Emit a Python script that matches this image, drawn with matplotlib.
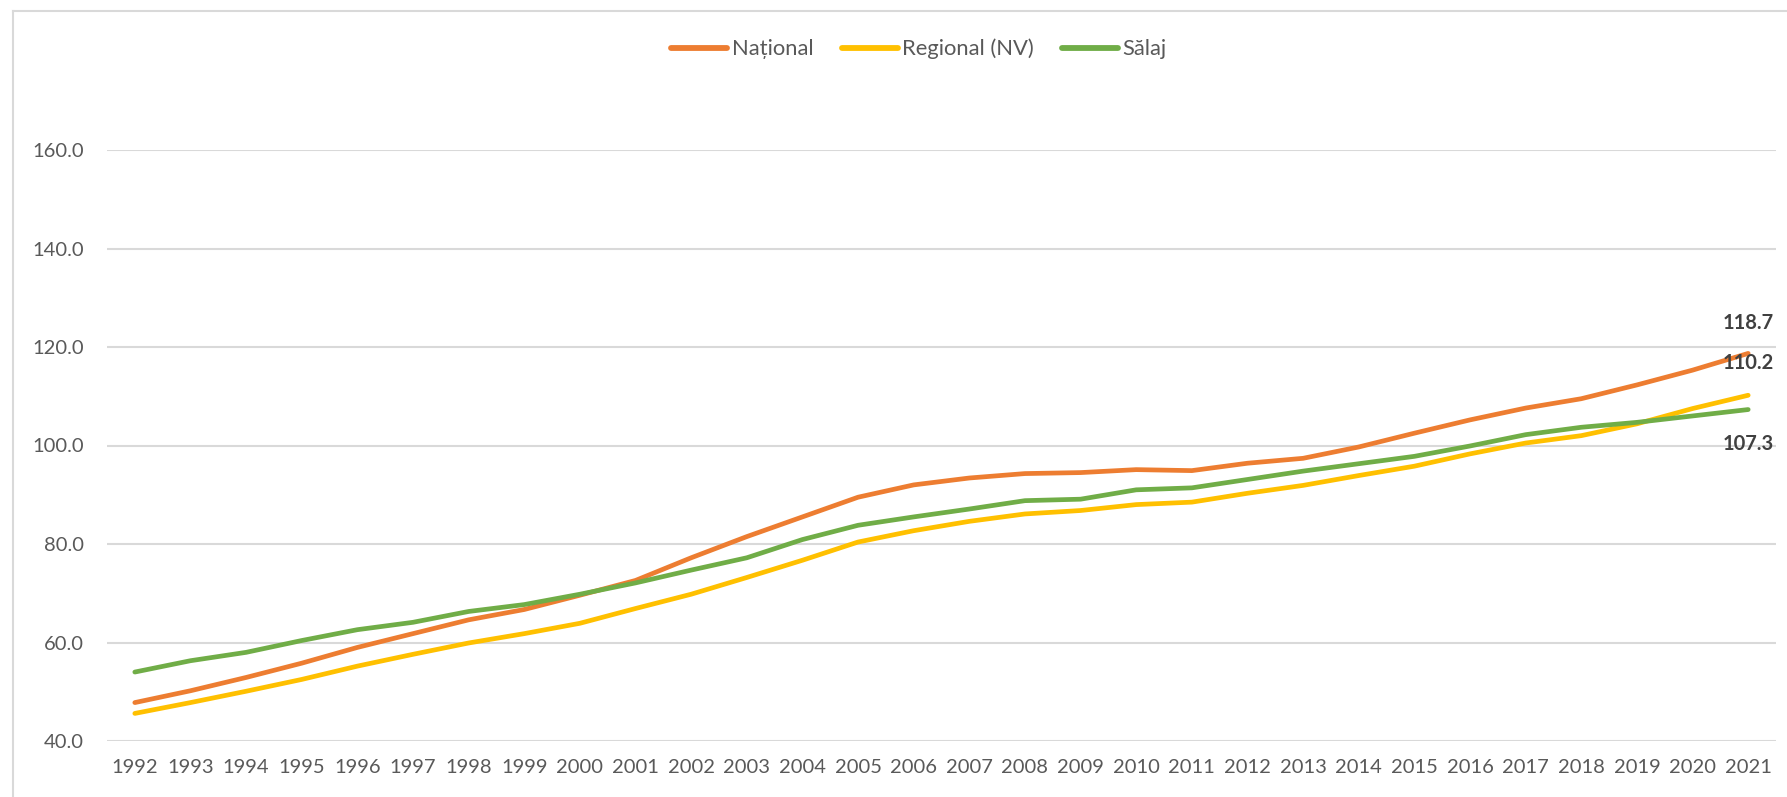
import matplotlib
matplotlib.use('Agg')
from matplotlib import pyplot as plt
from matplotlib.lines import Line2D

plt.rcParams['font.family'] = ['Lato', 'DejaVu Sans']

years = [str(y) for y in range(1992, 2022)]

national = [47.8, 50.2, 52.9, 55.8, 59.0, 61.8, 64.6, 66.7, 69.6, 72.6,
            77.2, 81.5, 85.5, 89.5, 92.0, 93.4, 94.3, 94.5, 95.1, 94.9,
            96.4, 97.4, 99.7, 102.5, 105.2, 107.6, 109.5, 112.3, 115.3, 118.7]
regional = [45.6, 47.8, 50.1, 52.5, 55.2, 57.6, 59.9, 61.8, 63.9, 66.9,
            69.8, 73.2, 76.7, 80.4, 82.7, 84.6, 86.1, 86.8, 88.0, 88.5,
            90.3, 91.9, 93.9, 95.8, 98.3, 100.5, 102.0, 104.4, 107.5, 110.2]
salaj = [54.0, 56.3, 58.0, 60.4, 62.6, 64.1, 66.3, 67.7, 69.8, 72.1,
         74.7, 77.2, 80.9, 83.8, 85.5, 87.1, 88.8, 89.1, 91.0, 91.4,
         93.1, 94.8, 96.3, 97.8, 99.9, 102.2, 103.7, 104.7, 106.0, 107.3]

series = [
    ('Național', national, '#ED7D31', 22),
    ('Regional (NV)', regional, '#FFC000', 23),
    ('Sălaj', salaj, '#70AD47', -25),
]

W, H = 1787, 797
fig = plt.figure(figsize=(W / 100, H / 100), dpi=100)
ax = fig.add_axes([107 / W, 1 - 741 / H, (1776 - 107) / W, (741 - 150) / H])

x = list(range(len(years)))
for name, vals, col, off in series:
    ax.plot(x, vals, color=col, lw=3.4, label=name, solid_capstyle='round',
            solid_joinstyle='round')
    ax.annotate(f'{vals[-1]:.1f}', (x[-1], vals[-1]), xytext=(0, off),
                textcoords='offset points', ha='center', va='center',
                fontsize=14.5, fontweight='bold', color='#404040',
                annotation_clip=False)

ax.set_xlim(-0.5, len(years) - 0.5)
ax.set_ylim(40, 160)
ax.set_yticks(range(40, 161, 20))
ax.set_yticklabels([f'{v:.1f}' for v in range(40, 161, 20)])
ax.set_xticks(x)
ax.set_xticklabels(years)
ax.tick_params(axis='both', length=0, labelsize=14.5, labelcolor='#595959')
ax.tick_params(axis='y', pad=16.5)
ax.tick_params(axis='x', pad=13)
ax.grid(axis='y', color='#D9D9D9', lw=1.5)
ax.set_axisbelow(True)
for s in ax.spines.values():
    s.set_visible(False)

fig.legend(loc='center', bbox_to_anchor=(919 / W, 1 - 49 / H), ncol=3,
           frameon=False, fontsize=15.8, handlelength=2.55, handletextpad=0.2,
           columnspacing=1.3, labelcolor='#595959')
for leg_line in fig.legends[0].get_lines():
    leg_line.set_linewidth(4.2)
    leg_line.set_solid_capstyle('round')

# chart border (left and top only visible)
fig.add_artist(Line2D([13 / W, 13 / W], [0, 1 - 11 / H], color='#D9D9D9', lw=1.5))
fig.add_artist(Line2D([13 / W, 1], [1 - 11 / H, 1 - 11 / H], color='#D9D9D9', lw=1.5))

fig.savefig('out.png', dpi=100)
